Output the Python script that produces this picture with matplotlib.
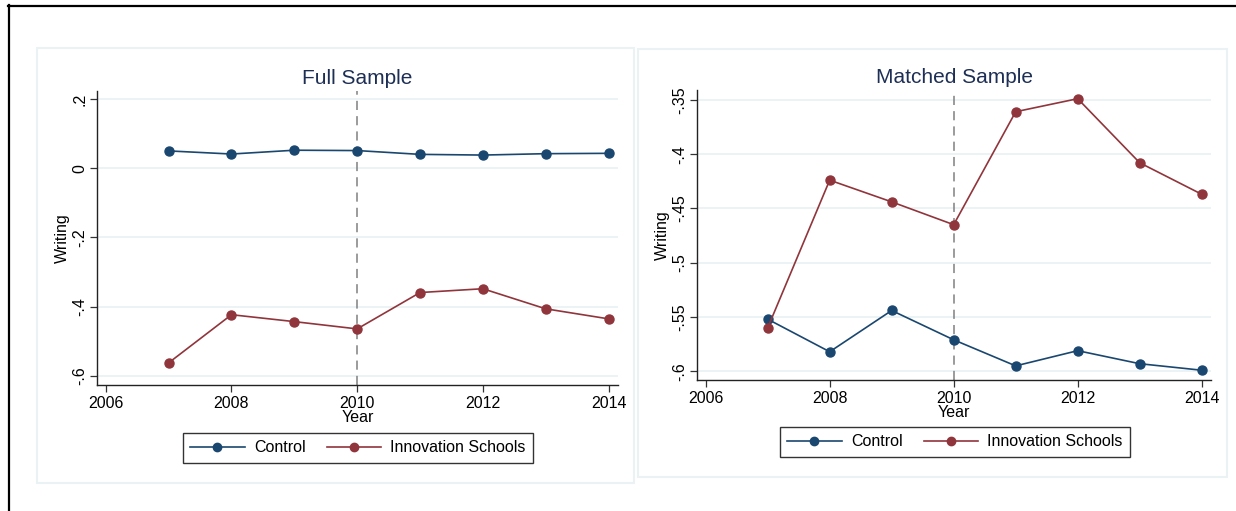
import matplotlib
matplotlib.use("Agg")
import matplotlib.pyplot as plt
from matplotlib.patches import Rectangle
from matplotlib.lines import Line2D

plt.rcParams['font.family'] = ['Liberation Sans', 'DejaVu Sans']

years = [2007, 2008, 2009, 2010, 2011, 2012, 2013, 2014]
full_control = [0.050, 0.041, 0.052, 0.051, 0.040, 0.038, 0.042, 0.043]
full_innov = [-0.562, -0.423, -0.443, -0.464, -0.359, -0.348, -0.406, -0.435]
matched_control = [-0.552, -0.582, -0.544, -0.571, -0.595, -0.581, -0.593, -0.599]
matched_innov = [-0.560, -0.424, -0.444, -0.465, -0.361, -0.349, -0.408, -0.437]

xticks = [2006, 2008, 2010, 2012, 2014]
full_yticks = [0.2, 0, -0.2, -0.4, -0.6]
full_ylabels = ['.2', '0', '-.2', '-.4', '-.6']
matched_yticks = [-0.35, -0.4, -0.45, -0.5, -0.55, -0.6]
matched_ylabels = ['-.35', '-.4', '-.45', '-.5', '-.55', '-.6']

NAVY = '#1a476f'
MAROON = '#90353b'
GRID = '#eaf2f3'

W, H = 1236, 511
fig = plt.figure(figsize=(W / 100, H / 100), dpi=100)
fig.patch.set_facecolor('white')


def fx(x):
    return x / W


def fy(y):
    return 1 - y / H


# Black frame lines (top and left)
fig.add_artist(Line2D([fx(8), 1.0], [fy(6), fy(6)], color='black', lw=1.6, zorder=-2))
fig.add_artist(Line2D([fx(9), fx(9)], [fy(5), 0.0], color='black', lw=1.6, zorder=-2))


def panel(box, axbox, title, ctrl, innov, yticks, ylabels, ylim, leg_center):
    x0, y0, x1, y1 = box
    fig.add_artist(Rectangle((fx(x0), fy(y1)), fx(x1 - x0), (y1 - y0) / H,
                             facecolor='white', edgecolor=GRID, lw=1.5,
                             transform=fig.transFigure, zorder=-1))
    ax0, ay0, ax1, ay1 = axbox
    ax = fig.add_axes([fx(ax0), fy(ay1), fx(ax1 - ax0), (ay1 - ay0) / H])
    ax.set_zorder(1)
    ax.set_facecolor('none')
    for yt in yticks:
        ax.axhline(yt, color=GRID, lw=1.3, zorder=0)
    ax.axvline(2010, color='#808080', lw=1.1, ls=(0, (6, 4)), zorder=1)
    ax.plot(years, ctrl, color=NAVY, lw=1.2, marker='o', ms=6.5, label='Control', zorder=3)
    ax.plot(years, innov, color=MAROON, lw=1.2, marker='o', ms=6.5,
            label='Innovation Schools', zorder=3)
    ax.set_xlim(2005.86, 2014.15)
    ax.set_ylim(*ylim)
    ax.set_xticks(xticks)
    ax.set_xticklabels([str(t) for t in xticks], fontsize=11.5)
    ax.set_yticks(yticks)
    ax.set_yticklabels(ylabels, fontsize=11.5, rotation=90, va='center')
    ax.tick_params(direction='out', length=5, width=0.9, color='#333333', pad=3)
    ax.tick_params(axis='y', pad=2)
    for s in ['top', 'right']:
        ax.spines[s].set_visible(False)
    for s in ['left', 'bottom']:
        ax.spines[s].set_color('#222222')
        ax.spines[s].set_linewidth(1.0)
    ax.set_xlabel('Year', fontsize=11.5, labelpad=-1)
    ax.set_ylabel('Writing', fontsize=11.5, labelpad=2)
    ax.set_title(title, fontsize=15, color='#1e2f55', pad=5)
    lx, ly = leg_center
    leg = ax.legend(loc='center', bbox_to_anchor=(fx(lx), fy(ly)),
                    bbox_transform=fig.transFigure, ncol=2, fontsize=11.5,
                    frameon=True, fancybox=False, edgecolor='black',
                    handlelength=3.4, columnspacing=1.3, handletextpad=0.6,
                    borderpad=0.45, borderaxespad=0)
    leg.get_frame().set_linewidth(1.0)
    for h in leg.legend_handles:
        h.set_markersize(6)
    return ax


panel((37, 48, 634, 483), (97, 91, 618, 385), 'Full Sample',
      full_control, full_innov, full_yticks, full_ylabels,
      (-0.626, 0.223), (358, 448))
panel((638, 49, 1227, 477), (697, 90, 1211, 380), 'Matched Sample',
      matched_control, matched_innov, matched_yticks, matched_ylabels,
      (-0.608, -0.341), (955, 442))

fig.savefig('out.png', dpi=100, facecolor='white')
